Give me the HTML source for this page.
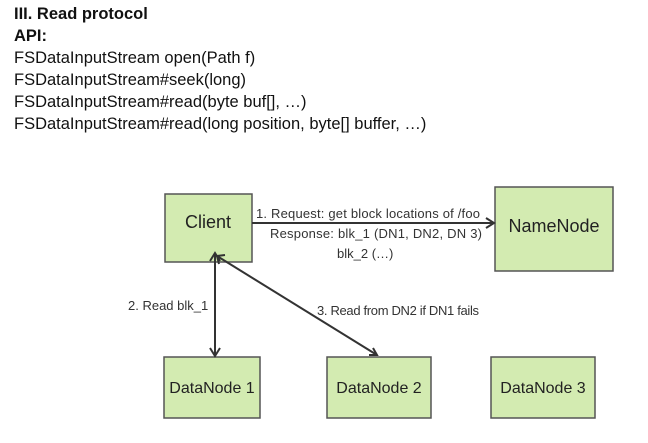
<!DOCTYPE html>
<html><head><style>
body{margin:0;width:648px;height:443px;background:#fff;overflow:hidden;position:relative;font-family:"Liberation Sans",Arial,sans-serif;}
.t{position:absolute;left:14px;font-size:16.5px;color:#111;white-space:nowrap;line-height:22px;}
</style></head><body>
<div class="t" style="top:3px;font-weight:bold">III. Read protocol</div>
<div class="t" style="top:25px;font-weight:bold">API:</div>
<div class="t" style="top:47px">FSDataInputStream open(Path f)</div>
<div class="t" style="top:69px">FSDataInputStream#seek(long)</div>
<div class="t" style="top:91px">FSDataInputStream#read(byte buf[], …)</div>
<div class="t" style="top:113px">FSDataInputStream#read(long position, byte[] buffer, …)</div>
<svg width="648" height="443" style="position:absolute;left:0;top:0" font-family="Liberation Sans, Arial, sans-serif">
<g fill="#d3ebb1" stroke="#555" stroke-width="1.5">
<rect x="165" y="194" width="87" height="68"/>
<rect x="495" y="187" width="118" height="84"/>
<rect x="164" y="357" width="96" height="61"/>
<rect x="327" y="357" width="104" height="61"/>
<rect x="491" y="357" width="104" height="61"/>
</g>
<g font-size="16" fill="#222" text-anchor="middle">
<text x="208" y="228" font-size="18">Client</text>
<text x="554" y="232" font-size="18">NameNode</text>
<text x="212" y="393">DataNode 1</text>
<text x="379" y="393">DataNode 2</text>
<text x="543" y="393">DataNode 3</text>
</g>
<g stroke="#333" stroke-width="2" fill="none">
<line x1="252" y1="223" x2="494" y2="223"/>
<polyline points="486,218 494,223 486,228"/>
<line x1="215" y1="253" x2="215" y2="356"/>
<polyline points="210,261 215,253 220,261"/>
<polyline points="210,348 215,356 220,348"/>
<line x1="217" y1="256" x2="377" y2="355"/>
<polyline points="219,264 217,256 225,255"/>
<polyline points="369,355 377,355 373,348"/>
</g>
<g font-size="13" fill="#333">
<text x="256" y="218" textLength="224">1. Request: get block locations of /foo</text>
<text x="270" y="238" textLength="212">Response: blk_1 (DN1, DN2, DN 3)</text>
<text x="337" y="258">blk_2 (…)</text>
<text x="128" y="310">2. Read blk_1</text>
<text x="317" y="315" textLength="162">3. Read from DN2 if DN1 fails</text>
</g>
</svg>
</body></html>
